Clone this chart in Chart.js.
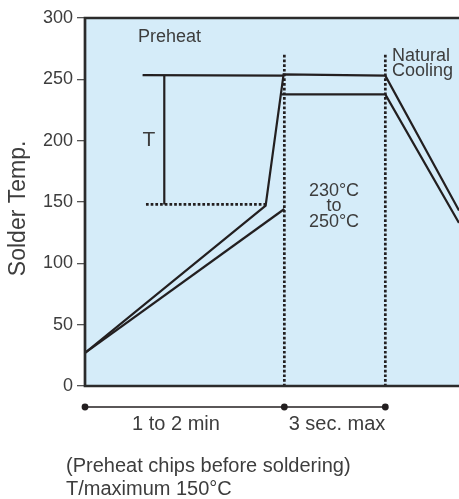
<!DOCTYPE html>
<html>
<head>
<meta charset="utf-8">
<script src="https://cdn.jsdelivr.net/npm/chart.js@4"></script>
<style>
html,body{margin:0;padding:0;background:#fff;}
canvas{display:block;}
</style>
</head>
<body>
<canvas id="c" width="459" height="499"></canvas>
<script>
// ---- data (x: time in arbitrary units 0..100, y: solder temp in °C) ----
const yTickValues = [0, 50, 100, 150, 200, 250, 300];
const upperX = [0, 48.3, 53.1, 80.3, 100];
const upperY = [27, 147, 254, 253, 143];
const lowerPreX = [0, 53.3];
const lowerPreY = [27, 144.3];
const lowerPeakX = [52.6, 80.3, 100];
const lowerPeakY = [237.7, 237.7, 133];
const tTopX = [15.4, 53.1];
const tTopY = [253.5, 253];
const tBarX = [21.2, 21.2];
const tBarY = [253.5, 148];
const tBaseX = [16.3, 48.3];
const tBaseY = [148, 148];
const phaseBoundX = [53.3, 80.3];
const phaseLineY = [270, 0];
const timelineX = [0, 53.3, 80.3];
const phaseLabels = ['1 to 2 min', '3 sec. max'];
const noteLines = ['(Preheat chips before soldering)', 'T/maximum 150°C'];

const pts = (xs, ys) => xs.map((x, i) => ({x: x, y: ys[i]}));

const INK = '#231f20';
const TXT = '#3d3d3d';
const FONT = "'Liberation Sans', Arial, Helvetica, sans-serif";

const solid = (xs, ys) => ({
  data: pts(xs, ys), showLine: true, borderColor: INK, borderWidth: 2.2,
  pointRadius: 0, fill: false, tension: 0
});
const dotted = (xs, ys) => ({
  data: pts(xs, ys), showLine: true, borderColor: INK, borderWidth: 2.7,
  borderDash: [2.7, 2.0], borderCapStyle: 'butt',
  pointRadius: 0, fill: false, tension: 0
});

const bgPlugin = {
  id: 'bg',
  beforeDraw(chart) {
    const {ctx, chartArea: a} = chart;
    ctx.save();
    ctx.fillStyle = '#d5ecf9';
    ctx.fillRect(a.left, a.top, a.right - a.left, a.bottom - a.top);
    ctx.restore();
  }
};

const decoPlugin = {
  id: 'deco',
  afterDraw(chart) {
    const {ctx, chartArea: a} = chart;
    const xs = chart.scales.x;
    ctx.save();
    // frame (left, top, bottom; open on the right)
    ctx.strokeStyle = '#2b2b2b';
    ctx.lineWidth = 2.7;
    ctx.beginPath();
    ctx.moveTo(a.right, a.top); ctx.lineTo(a.left, a.top);
    ctx.lineTo(a.left, a.bottom); ctx.lineTo(a.right, a.bottom);
    ctx.stroke();

    // in-chart labels
    ctx.fillStyle = TXT;
    ctx.textBaseline = 'alphabetic';
    ctx.font = '18px ' + FONT;
    ctx.textAlign = 'left';
    ctx.fillText('Preheat', 138, 42);
    ctx.fillText('Natural', 392, 61);
    ctx.fillText('Cooling', 392, 76);
    ctx.textAlign = 'center';
    ctx.fillText('230°C', 334, 196);
    ctx.fillText('to', 334, 211);
    ctx.fillText('250°C', 334, 227);
    ctx.font = '21px ' + FONT;
    ctx.fillText('T', 149, 146);

    // timeline below the axis
    const ty = 407;
    const px = timelineX.map(v => xs.getPixelForValue(v));
    ctx.strokeStyle = INK;
    ctx.lineWidth = 1.5;
    ctx.beginPath();
    ctx.moveTo(px[0], ty); ctx.lineTo(px[px.length - 1], ty);
    ctx.stroke();
    ctx.fillStyle = INK;
    px.forEach(p => { ctx.beginPath(); ctx.arc(p, ty, 3.4, 0, Math.PI * 2); ctx.fill(); });

    ctx.fillStyle = TXT;
    ctx.font = '20px ' + FONT;
    ctx.textAlign = 'center';
    ctx.fillText(phaseLabels[0], 176, 430);
    ctx.fillText(phaseLabels[1], 337, 430);

    ctx.textAlign = 'left';
    ctx.fillText(noteLines[0], 66, 472);
    ctx.fillText(noteLines[1], 66, 495);
    ctx.restore();
  }
};

new Chart(document.getElementById('c'), {
  type: 'scatter',
  data: {
    datasets: [
      solid(upperX, upperY),
      solid(lowerPreX, lowerPreY),
      solid(lowerPeakX, lowerPeakY),
      solid(tTopX, tTopY),
      solid(tBarX, tBarY),
      dotted(tBaseX, tBaseY),
      dotted([phaseBoundX[0], phaseBoundX[0]], phaseLineY),
      dotted([phaseBoundX[1], phaseBoundX[1]], phaseLineY)
    ]
  },
  options: {
    responsive: false,
    devicePixelRatio: 1,
    animation: false,
    layout: {padding: {top: 18, bottom: 113, left: 0, right: 0}},
    plugins: {legend: {display: false}, tooltip: {enabled: false}},
    scales: {
      x: {type: 'linear', min: 0, max: 100, display: false},
      y: {
        type: 'linear', min: 0, max: 300,
        afterFit(scale) { scale.width = 85; },
        afterBuildTicks(scale) { scale.ticks = yTickValues.map(v => ({value: v})); },
        ticks: {color: TXT, font: {family: FONT, size: 18}, padding: 4},
        grid: {drawOnChartArea: false, drawTicks: true, tickLength: 8, color: '#555', lineWidth: 1.3},
        border: {display: false},
        title: {display: true, text: 'Solder Temp.  ', color: TXT, font: {family: FONT, size: 23}, padding: {top: 5, bottom: 0}}
      }
    }
  },
  plugins: [bgPlugin, decoPlugin]
});
</script>
</body>
</html>
